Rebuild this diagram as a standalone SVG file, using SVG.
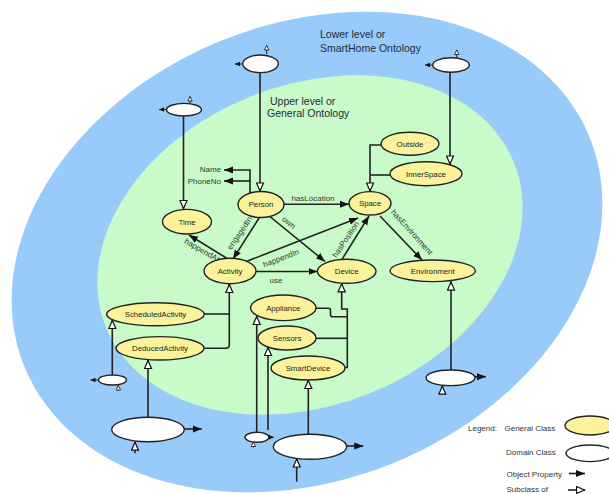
<svg xmlns="http://www.w3.org/2000/svg" width="609" height="494" viewBox="0 0 609 494">
<defs>
<style>
.gc{fill:#fbf39b;stroke:#222;stroke-width:1.4}
.dc{fill:#fff;stroke:#222;stroke-width:1.4}
.ln{fill:none;stroke:#222;stroke-width:1.6}
.tn{fill:none;stroke:#222;stroke-width:1}
.op{marker-end:url(#fa)}
.sc{marker-end:url(#ha)}
.so{marker-end:url(#sa)}
.sh{marker-end:url(#sh)}
.nt{font-family:"Liberation Sans",Arial,sans-serif;font-size:7.8px;fill:#222;text-anchor:middle}
.el{font-family:"Liberation Sans",Arial,sans-serif;font-size:8px;fill:#2b3b2b;text-anchor:middle}
.er{font-family:"Liberation Sans",Arial,sans-serif;font-size:8px;fill:#2b3b2b;text-anchor:end}
.tt{font-family:"Liberation Sans",Arial,sans-serif;font-size:10.5px;fill:#1d2b3a}
.lg{font-family:"Liberation Sans",Arial,sans-serif;font-size:8px;fill:#333}
</style>
<marker id="fa" markerUnits="userSpaceOnUse" markerWidth="10" markerHeight="8" refX="9" refY="4" orient="auto"><path d="M0,0.5 L9,4 L0,7.5 z" fill="#111"/></marker>
<marker id="ha" markerUnits="userSpaceOnUse" markerWidth="11" markerHeight="9" refX="9.5" refY="4.5" orient="auto"><path d="M1,1 L9,4.5 L1,8 z" fill="#fff" stroke="#111" stroke-width="1.2"/></marker>
<marker id="sa" markerUnits="userSpaceOnUse" markerWidth="6" markerHeight="6" refX="5" refY="3" orient="auto"><path d="M0,0.8 L5,3 L0,5.2 z" fill="#111"/></marker>
<marker id="sh" markerUnits="userSpaceOnUse" markerWidth="6" markerHeight="6" refX="5" refY="3" orient="auto"><path d="M0.5,0.8 L5,3 L0.5,5.2 z" fill="#fff" stroke="#111" stroke-width="0.8"/></marker>
</defs>
<rect width="609" height="494" fill="#fff"/>
<g id="regions">
<ellipse cx="307" cy="252" rx="305" ry="228" transform="rotate(-22 307 252)" fill="#98cbf9"/>
<ellipse cx="310" cy="245" rx="220" ry="160" transform="rotate(-22 310 245)" fill="#c8fbc9"/>
<text class="tt" x="320" y="37.5">Lower level or</text>
<text class="tt" x="320" y="52">SmartHome Ontology</text>
<text class="tt" x="270" y="104.5">Upper level or</text>
<text class="tt" x="267" y="116.5">General Ontology</text>
</g>
<g id="connectors">
<path class="ln sc" d="M183.5,116 V209"/>
<path class="ln sc" d="M260,72.6 V191.5"/>
<path class="ln sc" d="M450,72.3 V164.5"/>
<path class="ln sc" d="M381,145 H370 V191.5"/>
<path class="ln" d="M390,175 H370"/>
<path class="ln op" d="M250,193 V170 H224"/>
<path class="ln op" d="M250,181 H224"/>
<path class="ln op" d="M284,204.3 H349"/>
<path class="ln op" d="M268,215 L325,261.5"/>
<path class="ln op" d="M259.5,217.3 L233,259"/>
<path class="ln op" d="M228,259 L189,235"/>
<path class="ln op" d="M245,262 L358,218"/>
<path class="ln op" d="M256,271.5 H317.5"/>
<path class="ln op" d="M342,259.3 L369,216"/>
<path class="ln op" d="M380,216 L422,260"/>
<path class="ln" d="M204.3,314 H229.3"/>
<path class="ln sc" d="M204.3,348.3 H226 Q229.3,348.3 229.3,345 V284"/>
<path class="ln sc" d="M112.3,375 V320"/>
<path class="ln sc" d="M148,417.3 V360"/>
<path class="ln sc" d="M345,367.5 H347.3 V309 H341.7 V283.3"/>
<path class="ln" d="M316,308.3 H328.5 Q330.5,308.3 330.5,310.5 V314.7 Q330.5,316.7 332.5,316.7 H347.3"/>
<path class="ln" d="M316,338.3 H347.3"/>
<path class="ln sc" d="M256.7,432.3 V316"/>
<path class="ln sc" d="M268,430 V347"/>
<path class="ln sc" d="M308.3,434.3 V380"/>
<path class="ln sc" d="M451,370 V281.6"/>
<path class="tn so" d="M166.5,109.5 H159"/>
<path class="tn sh" d="M190,103.5 V96.5"/>
<path class="tn so" d="M242.7,64 H235"/>
<path class="tn sh" d="M266.7,54 V45.5"/>
<path class="tn so" d="M432.7,65 H425"/>
<path class="tn sh" d="M456.7,57.5 V50"/>
<path class="tn so" d="M98.5,380 H90.5"/>
<path class="tn sh" d="M118.3,391 V385.5"/>
<path class="ln op" d="M184.3,429 H201.7"/>
<path class="ln sc" d="M135,453.3 V441.7"/>
<path class="tn so" d="M269,437.3 H274"/>
<path class="tn sh" d="M253.3,447.5 V442"/>
<path class="ln op" d="M346.7,446 H363.3"/>
<path class="ln sc" d="M296.7,481.7 V458.5"/>
<path class="ln op" d="M475,376.7 H486"/>
<path class="ln sc" d="M442.3,394 V385.7"/>
<text class="er" x="221" y="172">Name</text>
<text class="er" x="221" y="183.5">PhoneNo</text>
<text class="el" x="313" y="201">hasLocation</text>
<text class="el" transform="translate(289,222.5) rotate(40)" y="2.8">own</text>
<text class="el" transform="translate(239.5,233) rotate(-56)" y="2.8">engagedIn</text>
<text class="el" transform="translate(202,250) rotate(30)" y="2.8">happendAt</text>
<text class="el" transform="translate(281,258) rotate(-21)" y="2.8">happendIn</text>
<text class="el" x="276" y="283">use</text>
<text class="el" transform="translate(345.5,239.5) rotate(-56)" y="2.8">hasPosition</text>
<text class="el" transform="translate(412,232) rotate(48)" y="2.8">hasEnvironment</text>
</g>
<g id="time"><ellipse class="gc" cx="187" cy="221.7" rx="24.5" ry="12.3"/><text class="nt" x="187" y="224.5">Time</text></g>
<g id="person"><ellipse class="gc" cx="261" cy="204.5" rx="23" ry="13"/><text class="nt" x="261" y="207.3">Person</text></g>
<g id="space"><ellipse class="gc" cx="370" cy="203.3" rx="21" ry="11.7"/><text class="nt" x="370" y="206.1">Space</text></g>
<g id="outside"><ellipse class="gc" cx="410" cy="143.7" rx="29" ry="11.5"/><text class="nt" x="410" y="146.5">Outside</text></g>
<g id="innerspace"><ellipse class="gc" cx="426" cy="173.7" rx="36" ry="12"/><text class="nt" x="426" y="176.5">InnerSpace</text></g>
<g id="activity"><ellipse class="gc" cx="230" cy="271" rx="26" ry="12.7"/><text class="nt" x="230" y="273.8">Activity</text></g>
<g id="device"><ellipse class="gc" cx="346.7" cy="271.3" rx="29.3" ry="12"/><text class="nt" x="346.7" y="274.1">Device</text></g>
<g id="environment"><ellipse class="gc" cx="432.7" cy="270.8" rx="42.7" ry="10.8"/><text class="nt" x="432.7" y="273.6">Environment</text></g>
<g id="scheduledactivity"><ellipse class="gc" cx="155.5" cy="314.2" rx="48.8" ry="11.5"/><text class="nt" x="155.5" y="317">ScheduledActivity</text></g>
<g id="deducedactivity"><ellipse class="gc" cx="160" cy="348.3" rx="44" ry="11.7"/><text class="nt" x="160" y="351.1">DeducedActivity</text></g>
<g id="appliance"><ellipse class="gc" cx="283.3" cy="307.8" rx="32.7" ry="12.8"/><text class="nt" x="283.3" y="310.6">Appliance</text></g>
<g id="sensors"><ellipse class="gc" cx="287" cy="338" rx="29" ry="12"/><text class="nt" x="287" y="340.8">Sensors</text></g>
<g id="smartdevice"><ellipse class="gc" cx="308" cy="368" rx="37" ry="12"/><text class="nt" x="308" y="370.8">SmartDevice</text></g>
<g id="domain-time"><ellipse class="dc" cx="184" cy="109.7" rx="17.5" ry="6.3"/></g>
<g id="domain-person"><ellipse class="dc" cx="260.5" cy="63.8" rx="17.8" ry="8.8"/></g>
<g id="domain-innerspace"><ellipse class="dc" cx="451" cy="65" rx="18.3" ry="7.3"/></g>
<g id="domain-scheduled"><ellipse class="dc" cx="112.5" cy="380" rx="14" ry="5"/></g>
<g id="domain-deduced"><ellipse class="dc" cx="148" cy="429.5" rx="36.3" ry="12.2"/></g>
<g id="domain-appliance"><ellipse class="dc" cx="257" cy="437.3" rx="12" ry="5"/></g>
<g id="domain-smartdevice"><ellipse class="dc" cx="310" cy="446.8" rx="36.7" ry="12.5"/></g>
<g id="domain-environment"><ellipse class="dc" cx="450.5" cy="377.8" rx="24.5" ry="7.8"/></g>
<g id="legend">
<text class="lg" x="468" y="430.5">Legend:</text>
<text class="lg" x="504.5" y="430.5">General Class</text>
<ellipse class="gc" cx="590" cy="425.5" rx="25" ry="9.5"/>
<text class="lg" x="506" y="454.5">Domain Class</text>
<ellipse class="dc" cx="590" cy="453.3" rx="24" ry="8.3"/>
<text class="lg" x="506.5" y="477">Object Property</text>
<path class="ln op" d="M569,473.5 H585"/>
<text class="lg" x="506.5" y="492">Subclass of</text>
<path class="ln sc" d="M568,490 H585"/>
</g>
</svg>
